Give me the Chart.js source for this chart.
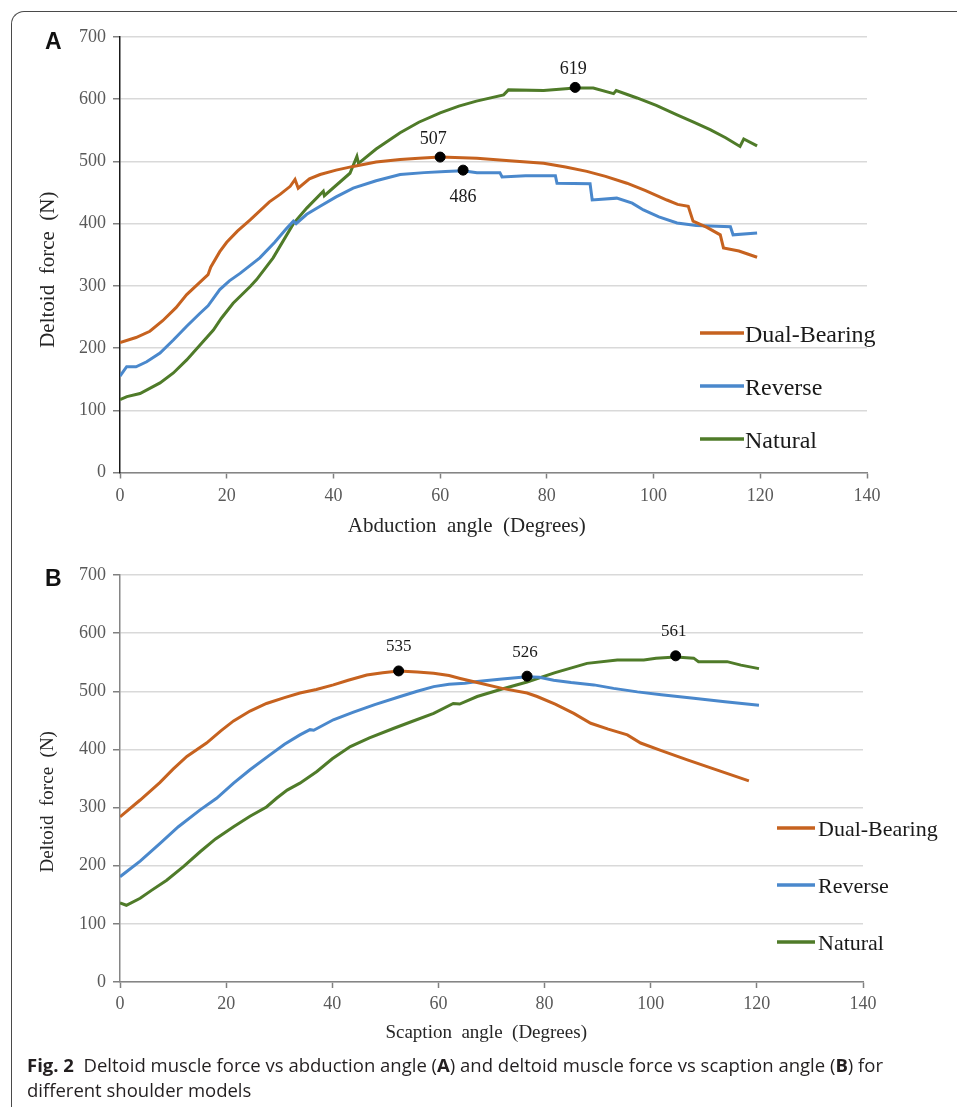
<!DOCTYPE html>
<html>
<head>
<meta charset="utf-8">
<title>Fig. 2 Deltoid muscle force</title>
<script src="https://cdn.jsdelivr.net/npm/chart.js@4.4.1/dist/chart.umd.min.js"></script>
<style>
html, body { margin:0; padding:0; background:#fff; }
body { width:957px; height:1107px; position:relative; overflow:hidden; }
#frame { position:absolute; left:11px; top:11px; width:1000px; height:1200px;
  border-left:1px solid #4a4a4a; border-top:1px solid #4a4a4a; border-top-left-radius:13px; }
.panel { position:absolute; left:45px; font-family:"Liberation Sans", Arial, sans-serif;
  font-weight:bold; font-size:23px; line-height:23px; color:#111; }
#wrapA { position:absolute; left:0; top:0; width:957px; height:550px; }
#wrapB { position:absolute; left:0; top:545px; width:957px; height:515px; }
#caption { position:absolute; left:27px; top:1052px; font-family:"Open Sans", sans-serif;
  font-size:18.5px; line-height:25px; color:#231f20; white-space:nowrap; }
</style>
</head>
<body>
<div id="frame"></div>
<div id="wrapA"><canvas id="chartA"></canvas></div>
<div id="wrapB"><canvas id="chartB"></canvas></div>
<div class="panel" style="top:30px">A</div>
<div class="panel" style="top:567px">B</div>
<div id="caption"><b>Fig. 2</b>&nbsp;&nbsp;Deltoid muscle force vs abduction angle (<b>A</b>) and deltoid muscle force vs scaption angle (<b>B</b>) for<br>different shoulder models</div>
<script>
// ---- A: abduction ----
var dualAngleA = [0, 3, 5.6, 8, 10.5, 12.5, 15, 16.5, 17, 18.7, 20, 22, 24.4, 28, 30, 31.9, 32.8, 33.4, 35.5, 37.5, 40.5, 43.7, 48, 52.5, 56, 60, 66.9, 73, 79.4, 83.5, 87.5, 91, 95, 98.5, 102.5, 104.5, 106.5, 107.4, 110, 112.5, 113.1, 116, 119.4];
var dualForceA = [209, 217, 227, 244, 265, 286, 306, 318, 330, 355, 370, 388, 406, 435, 447, 460, 471, 457, 472, 479, 486, 492, 499, 503, 505, 507, 505, 501, 497, 491, 484, 476, 465, 453, 438, 431, 428, 404, 394, 382, 361, 356, 346];

var revAngleA = [0, 1.25, 3, 5, 7.5, 10, 12.5, 15, 16.5, 18.7, 20.5, 22.5, 26.2, 29, 31.2, 32.5, 33, 35, 37.5, 40.5, 43.7, 48, 52.5, 57, 61, 64.3, 66.9, 71.2, 71.6, 76, 81.6, 81.9, 88.1, 88.5, 93.1, 96, 98.1, 101, 104.4, 108, 114.4, 114.9, 119.4];
var revForceA = [155, 170, 170, 178, 192, 213, 235, 256, 268, 294, 308, 320, 345, 370, 392, 404, 400, 415, 428, 443, 457, 469, 479, 482, 484, 485, 482, 482, 475, 477, 477, 465, 464, 438, 441, 433, 422, 411, 401, 397, 395, 382, 385];

var natAngleA = [0, 1.3, 3.75, 7.5, 10, 12.5, 15, 17.5, 19, 21.2, 24.4, 25.6, 28.7, 32.5, 35, 38.1, 38.3, 43.1, 44.4, 44.7, 48, 52.5, 56, 60, 63.5, 66.8, 71.9, 72.8, 79.4, 85.3, 88.7, 92.5, 93, 96.9, 100.5, 104.4, 107.5, 110.6, 113.5, 116.2, 116.9, 119.4];
var natForceA = [117, 122, 127, 144, 160, 181, 205, 229, 248, 272, 299, 310, 345, 400, 425, 452, 445, 481, 508, 497, 520, 546, 563, 578, 589, 597, 607, 615, 614, 618, 618, 609, 614, 602, 590, 575, 563, 551, 538, 524, 536, 525];

var peakAngleA = [60, 64.3, 85.3];
var peakForceA = [507, 486, 619];

// ---- B: scaption ----
var dualAngleB = [0, 3.8, 7.5, 10, 12.6, 16.3, 19, 21.4, 24.5, 27.6, 31, 33.9, 37, 40.2, 43, 46.5, 49.5, 52.5, 56, 59.1, 62, 64.1, 67.3, 72, 76.7, 78.6, 82, 85.5, 88.7, 92, 95.6, 98.1, 102, 106.9, 112, 118.5];
var dualForceB = [284, 313, 343, 366, 388, 411, 432, 449, 466, 479, 489, 497, 503, 511, 519, 528, 532, 535, 533, 531, 527, 522, 515, 505, 497, 491, 478, 462, 445, 435, 425, 411, 398, 382, 366, 346];

var revAngleB = [0, 3.8, 7.5, 11, 15.1, 18.2, 21.4, 24.5, 28, 31, 33.9, 35.8, 36.5, 40.2, 44, 48, 52.8, 56, 59.1, 62, 65, 67.3, 72, 76.7, 79, 81.7, 85, 89.3, 93, 97.5, 102, 108.1, 114, 120.4];
var revForceB = [181, 208, 238, 267, 296, 316, 342, 365, 389, 409, 425, 434, 433, 451, 464, 477, 491, 500, 508, 512, 514, 517, 521, 525, 524, 519, 515, 511, 505, 499, 494, 488, 482, 476];

var natAngleB = [0, 1.2, 3.8, 6, 8.8, 12, 15.1, 18, 21.4, 24.5, 27.6, 29.5, 31.5, 33.9, 37.1, 40, 43.4, 47, 51.5, 55, 59.1, 62.8, 64, 67.3, 72, 76.7, 82, 88, 93.7, 98.7, 101, 104.7, 108.1, 109, 114.4, 117, 120.4];
var natForceB = [136, 132, 144, 158, 175, 199, 224, 246, 267, 285, 301, 316, 330, 342, 362, 384, 405, 420, 436, 448, 462, 479, 478, 491, 504, 516, 532, 548, 554, 554, 557, 559, 557, 551, 551, 545, 539];

var peakAngleB = [52.5, 76.7, 104.7];
var peakForceB = [535, 526, 561];

var seriesNames = ['Dual-Bearing', 'Reverse', 'Natural'];
var seriesColors = ['#c6621f', '#4a88cc', '#4f7b29'];
var xTicks = [0, 20, 40, 60, 80, 100, 120, 140];
var yTicks = [0, 100, 200, 300, 400, 500, 600, 700];

function pts(xs, ys) {
	return xs.map(function(x, i){ return {x: x, y: ys[i]}; });
}

// legend, axis titles and peak labels drawn inside the plot
var figureDecor = {
	id: 'figureDecor',
	afterDatasetsDraw: function(chart, args, o) {
		var ctx = chart.ctx, area = chart.chartArea;
		var xs = chart.scales.x, ys = chart.scales.y;
		ctx.save();

		// peak labels
		var meta = chart.getDatasetMeta(0);
		var ds = chart.data.datasets[0];
		ctx.font = o.labelSize + 'px "Liberation Serif"';
		ctx.fillStyle = '#1a1a1a';
		ctx.textAlign = 'center';
		ctx.textBaseline = 'middle';
		meta.data.forEach(function(p, i){
			var dy = o.labelBelow[i] ? o.labelGapBelow : -o.labelGapAbove;
			ctx.fillText(String(ds.data[i].y), p.x + (o.labelDx[i] || 0), p.y + dy);
		});

		// legend
		ctx.font = o.legendSize + 'px "Liberation Serif"';
		ctx.textAlign = 'left';
		ctx.textBaseline = 'alphabetic';
		seriesNames.forEach(function(name, i){
			var y = area.top + o.legendY + i * o.legendGap;
			ctx.strokeStyle = seriesColors[i];
			ctx.lineWidth = 3.5;
			ctx.beginPath();
			ctx.moveTo(area.left + o.legendX0, y);
			ctx.lineTo(area.left + o.legendX1, y);
			ctx.stroke();
			ctx.fillStyle = '#1a1a1a';
			ctx.fillText(name, area.left + o.legendTextX, y + o.legendSize * 0.36);
		});

		// axis titles
		ctx.fillStyle = '#262626';
		ctx.font = o.titleSize + 'px "Liberation Serif"';
		ctx.textAlign = 'center';
		ctx.textBaseline = 'middle';
		ctx.fillText(o.xTitle, xs.getPixelForValue(o.xTitleAt), area.bottom + o.xTitleOffset);
		ctx.translate(o.yTitleX, ys.getPixelForValue(o.yTitleAt));
		ctx.rotate(-Math.PI / 2);
		ctx.fillText(o.yTitle, 0, 0);
		ctx.restore();
	}
};

function makeChart(id, d, opt) {
	var tickFont = {family: 'Liberation Serif', size: 18};
	return new Chart(id, {
		type: 'line',
		data: {
			datasets: [{
				label: 'peaks',
				data: pts(d.peakX, d.peakY),
				showLine: false,
				pointRadius: 5,
				pointBackgroundColor: '#000',
				pointBorderColor: '#000',
				order: -1
			}].concat(seriesNames.map(function(name, i){
				return {
					label: name,
					data: pts(d.xs[i], d.ys[i]),
					borderColor: seriesColors[i],
					borderWidth: 3,
					pointRadius: 0,
					tension: 0,
					fill: false,
					order: i
				};
			}))
		},
		plugins: [figureDecor],
		options: {
			responsive: true,
			maintainAspectRatio: false,
			animation: false,
			events: [],
			layout: {padding: {left: 0, top: opt.padTop, right: opt.padRight, bottom: 0}},
			scales: {
				x: {
					type: 'linear', min: 0, max: 140,
					afterBuildTicks: function(s){ s.ticks = xTicks.map(function(v){ return {value: v}; }); },
					afterFit: function(s){ s.height = opt.xHeight; },
					ticks: {font: tickFont, color: '#595959', padding: opt.xPad},
					grid: {drawOnChartArea: false, drawTicks: true, tickLength: 6, tickColor: '#808080', tickWidth: 1.5},
					border: {color: '#858585', width: 1.5}
				},
				y: {
					min: 0, max: 700,
					afterBuildTicks: function(s){ s.ticks = yTicks.map(function(v){ return {value: v}; }); },
					afterFit: function(s){ s.width = 120; },
					ticks: {font: tickFont, color: '#595959', padding: 7},
					grid: {color: '#d9d9d9', lineWidth: 1.5, tickLength: 7, tickColor: '#808080', tickWidth: 1.5},
					border: {color: opt.yAxisColor, width: 1.5}
				}
			},
			plugins: {
				legend: {display: false},
				tooltip: {enabled: false},
				figureDecor: opt.decor
			}
		}
	});
}

makeChart('chartA', {
	xs: [dualAngleA, revAngleA, natAngleA],
	ys: [dualForceA, revForceA, natForceA],
	peakX: peakAngleA, peakY: peakForceA
}, {
	padTop: 37, padRight: 90, xHeight: 77.5, xPad: 7, yAxisColor: '#1a1a1a',
	decor: {
		labelSize: 18, labelBelow: [false, true, false], labelDx: [-7, 0, -2],
		labelGapAbove: 18, labelGapBelow: 27,
		legendSize: 24, legendX0: 580, legendX1: 624, legendTextX: 625, legendY: 296, legendGap: 53,
		titleSize: 21, xTitle: 'Abduction  angle  (Degrees)', xTitleAt: 65, xTitleOffset: 54,
		yTitle: 'Deltoid  force  (N)', yTitleAt: 326, yTitleX: 48
	}
});

makeChart('chartB', {
	xs: [dualAngleB, revAngleB, natAngleB],
	ys: [dualForceB, revForceB, natForceB],
	peakX: peakAngleB, peakY: peakForceB
}, {
	padTop: 30, padRight: 94, xHeight: 78, xPad: 5, yAxisColor: '#858585',
	decor: {
		labelSize: 17, labelBelow: [false, false, false], labelDx: [0, -2, -2],
		labelGapAbove: 24, labelGapBelow: 24,
		legendSize: 22, legendX0: 657, legendX1: 695, legendTextX: 698, legendY: 253, legendGap: 57,
		titleSize: 19, xTitle: 'Scaption  angle  (Degrees)', xTitleAt: 69, xTitleOffset: 51,
		yTitle: 'Deltoid  force  (N)', yTitleAt: 310, yTitleX: 48
	}
});
</script>
</body>
</html>
